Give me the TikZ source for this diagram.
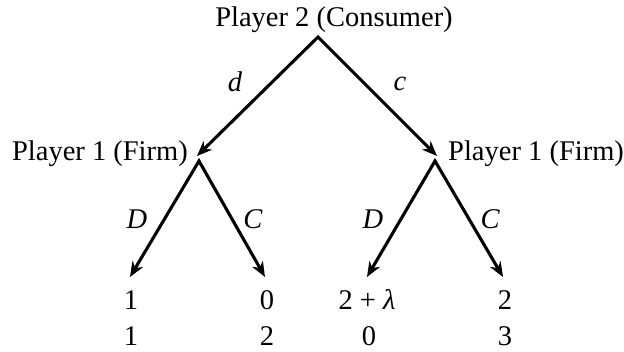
\documentclass[tikz,border=0pt]{standalone}
\usepackage{fontspec}
\setmainfont{Liberation Serif}
\usetikzlibrary{arrows.meta}
\begin{document}
\begin{tikzpicture}[x=1pt,y=-1pt,
  edge/.style={line width=3.1pt,line join=miter,{Stealth[length=15pt,width=12pt,inset=4.5pt]}-{Stealth[length=15pt,width=12pt,inset=4.5pt]}},
  txt/.style={inner sep=0pt,font=\fontsize{28.5}{34}\selectfont},
  lab/.style={inner sep=0pt,font=\fontsize{28.5}{34}\selectfont\itshape}]
\useasboundingbox (0,0) rectangle (624,352);
% coordinates
\coordinate (root) at (318,37);
\coordinate (flt) at (197,156);
\coordinate (frt) at (437,156);
\coordinate (fl) at (199,161);
\coordinate (fr) at (435,161);
\coordinate (lD) at (130,277);
\coordinate (lC) at (265,277);
\coordinate (rD) at (367,277);
\coordinate (rC) at (503,277);
% texts
\node[txt,anchor=base] (p2) at (334,27) {Player 2 (Consumer)};
\node[txt,anchor=base east] (p1l) at (188,161) {Player 1 (Firm)};
\node[txt,anchor=base west] (p1r) at (448,161) {Player 1 (Firm)};
% edges
\draw[edge] (flt) -- (root) -- (frt);
\draw[edge] (lD) -- (fl) -- (lC);
\draw[edge] (rD) -- (fr) -- (rC);
% labels
\node[lab] (ld) at (235,82) {d};
\node[lab] (lc) at (400,84) {c};
\node[lab] (lD1) at (137,219) {D};
\node[lab] (lC1) at (253,219) {C};
\node[lab] (rD1) at (373,219) {D};
\node[lab] (rC1) at (490,219) {C};
% payoffs
\node[txt,anchor=base] (a1) at (131,310) {1};
\node[txt,anchor=base] (a2) at (267,310) {0};
\node[txt,anchor=base] (a3) at (367,310) {2 + \textit{λ}};
\node[txt,anchor=base] (a4) at (505,310) {2};
\node[txt,anchor=base] (b1) at (131,346) {1};
\node[txt,anchor=base] (b2) at (267,346) {2};
\node[txt,anchor=base] (b3) at (369,346) {0};
\node[txt,anchor=base] (b4) at (505,346) {3};
\end{tikzpicture}
\end{document}
